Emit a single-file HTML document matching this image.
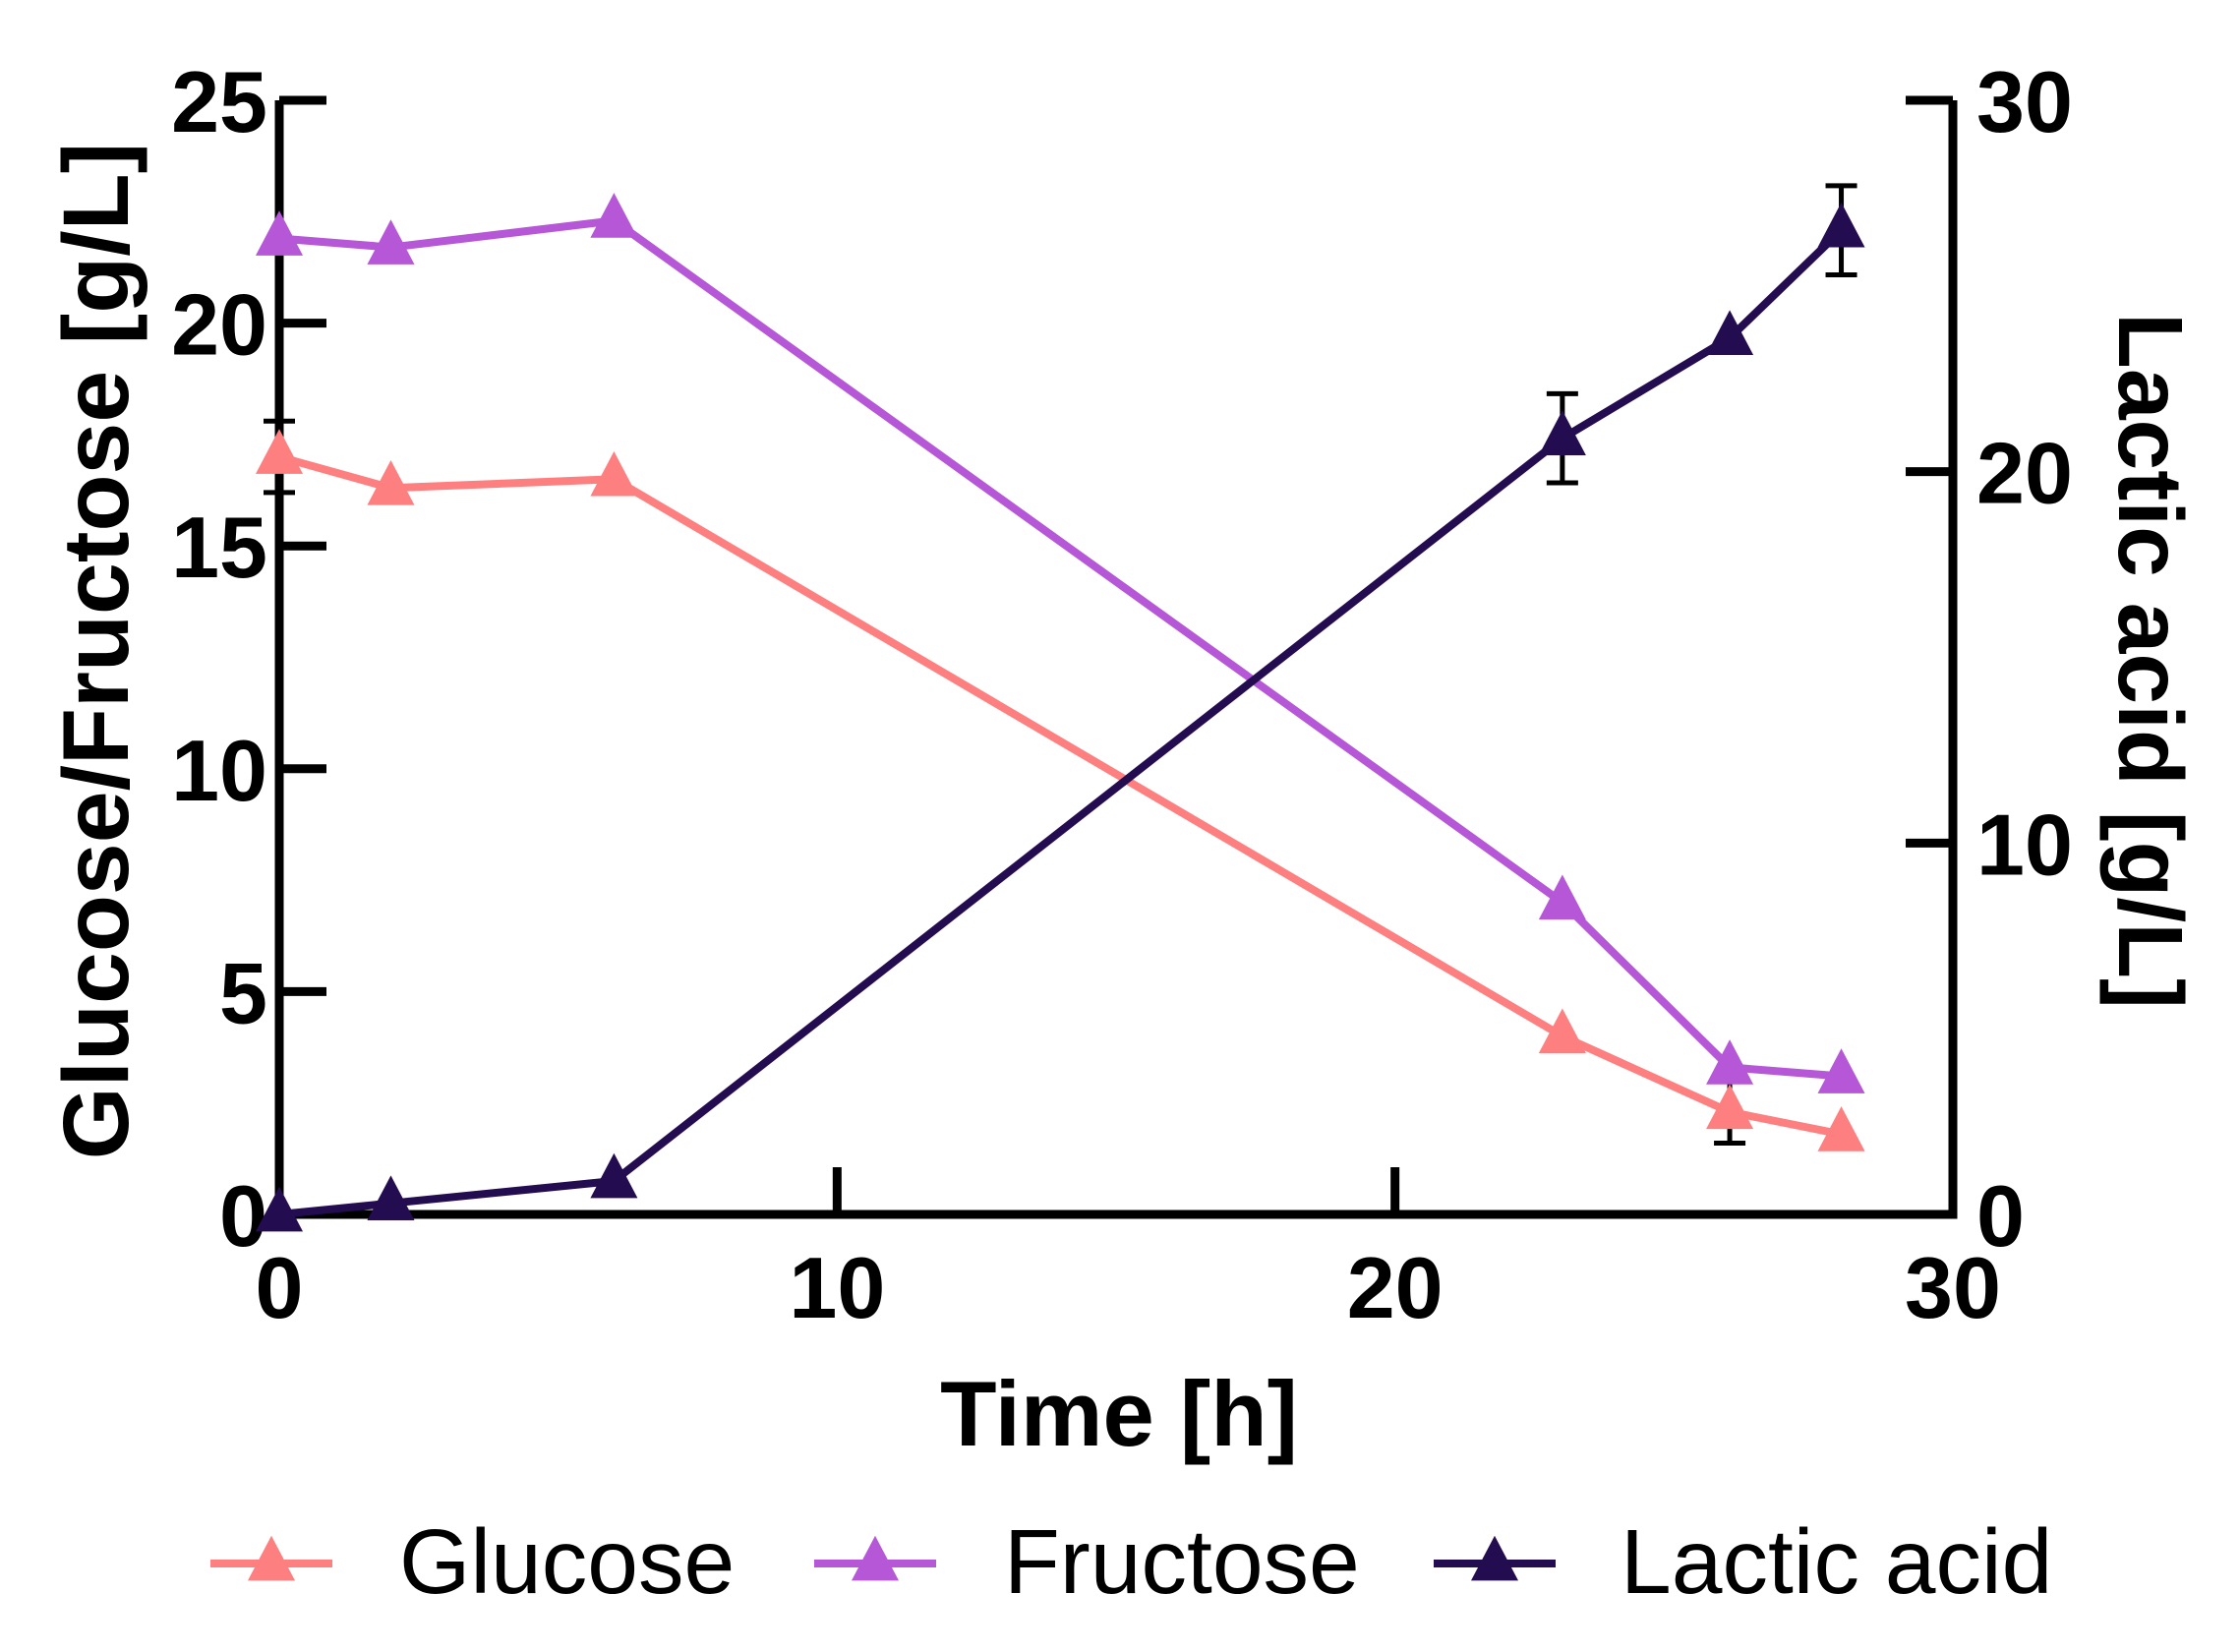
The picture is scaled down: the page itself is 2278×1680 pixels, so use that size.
<!DOCTYPE html>
<html><head><meta charset="utf-8"><style>
html,body{margin:0;padding:0;background:#fff}
svg{display:block}
text{font-family:"Liberation Sans",Arial,sans-serif}
</style></head><body>
<svg id="chart" width="2278" height="1680" viewBox="0 0 2278 1680" xmlns="http://www.w3.org/2000/svg">
<g id="axes"></g>
<g id="series"></g>
<text x="0" y="0" transform="translate(130,662) rotate(-90)" text-anchor="middle" font-size="95" font-weight="bold">Glucose/Fructose [g/L]</text>
<text x="0" y="0" transform="translate(2155,672) rotate(90)" text-anchor="middle" font-size="93" font-weight="bold">Lactic acid [g/L]</text>
<text x="1138" y="1470" text-anchor="middle" font-size="94" font-weight="bold">Time [h]</text>
<g id="legend"></g>
</svg>
<script>
const times = [0, 2, 6, 23, 26, 28];
const glucose = [17.0, 16.3, 16.5, 4.0, 2.3, 1.8];
const glucoseErr = [0.8, 0, 0, 0, 0.7, 0];
const fructose = [21.9, 21.7, 22.3, 7.0, 3.3, 3.1];
const fructoseErr = [0, 0, 0, 0, 0, 0];
const lactic = [0, 0.3, 0.9, 20.9, 23.6, 26.5];
const lacticErr = [0, 0, 0, 1.2, 0, 1.2];
const xTicks = [0, 10, 20, 30];
const yLeftTicks = [0, 5, 10, 15, 20, 25];
const yRightTicks = [0, 10, 20, 30];

const NS = 'http://www.w3.org/2000/svg';
const X0 = 284, X1 = 1986, Y0 = 1235, Y1 = 102;
const xs = t => X0 + (t / 30) * (X1 - X0);
const yl = v => Y0 - (v / 25) * (Y0 - Y1);
const yr = v => Y0 - (v / 30) * (Y0 - Y1);
function mk(tag, attrs, parent) {
  const e = document.createElementNS(NS, tag);
  for (const k in attrs) e.setAttribute(k, attrs[k]);
  parent.appendChild(e);
  return e;
}
const axes = document.getElementById('axes');
const ser = document.getElementById('series');
const leg = document.getElementById('legend');

let a = mk('path', {d:`M${X0},${Y1} V${Y0} H${X1} V${Y1}`, fill:'none', stroke:'#000', 'stroke-width':9}, axes);



yLeftTicks.forEach(v => {
  const l = mk('line', {x1:X0, x2:X0+48, y1:yl(v), y2:yl(v), stroke:'#000', 'stroke-width':9}, axes);
  
  
  const t = mk('text', {x:X0-12, y:yl(v)+32, 'text-anchor':'end', 'font-size':88, 'font-weight':'bold'}, axes);
  t.textContent = v;
  
  
});
yRightTicks.forEach(v => {
  const l = mk('line', {x1:X1-48, x2:X1, y1:yr(v), y2:yr(v), stroke:'#000', 'stroke-width':9}, axes);
  
  
  const t = mk('text', {x:X1+24, y:yr(v)+32, 'text-anchor':'start', 'font-size':88, 'font-weight':'bold'}, axes);
  t.textContent = v;
  
  
});
xTicks.forEach(v => {
  const l = mk('line', {x1:xs(v), x2:xs(v), y1:Y0, y2:Y0-48, stroke:'#000', 'stroke-width':9}, axes);
  
  
  const t = mk('text', {x:xs(v), y:Y0+105, 'text-anchor':'middle', 'font-size':88, 'font-weight':'bold'}, axes);
  t.textContent = v;
  
  
});

function tri(cx, cy, s, color, parent) {
  const h = s * 0.95;
  return mk('polygon', {points:`${cx},${cy-h*0.62} ${cx-s/2},${cy+h*0.38} ${cx+s/2},${cy+h*0.38}`, fill:color}, parent);
}
function drawSeries(vals, errs, scale, color, name) {
  const g = mk('g', {}, ser);
  
  
  const pts = times.map((t, i) => `${xs(t)},${scale(vals[i])}`).join(' ');
  const pl = mk('polyline', {points:pts, fill:'none', stroke:color, 'stroke-width':8, 'stroke-linejoin':'round'}, g);
  
  
  times.forEach((t, i) => {
    if (errs[i] > 0) {
      const cx = xs(t), y1 = scale(vals[i] + errs[i]), y2 = scale(vals[i] - errs[i]);
      const e = mk('path', {d:`M${cx},${y1} V${y2} M${cx-16},${y1} H${cx+16} M${cx-16},${y2} H${cx+16}`, stroke:'#000', 'stroke-width':5, fill:'none'}, g);
      
      
    }
    const m = tri(xs(t), scale(vals[i]), 48, color, g);
    
    
  });
}
drawSeries(glucose, glucoseErr, yl, '#fe7f7f', 'glucose');
drawSeries(fructose, fructoseErr, yl, '#b557d6', 'fructose');
drawSeries(lactic, lacticErr, yr, '#230c4f', 'lactic-acid');

const legendItems = [
  {label:'Glucose', color:'#fe7f7f', x1:214, tx:406, name:'legend-glucose'},
  {label:'Fructose', color:'#b557d6', x1:828, tx:1021, name:'legend-fructose'},
  {label:'Lactic acid', color:'#230c4f', x1:1458, tx:1648, name:'legend-lactic-acid'}
];
legendItems.forEach(it => {
  const g = mk('g', {}, leg);
  
  
  mk('line', {x1:it.x1, x2:it.x1+124, y1:1590, y2:1590, stroke:it.color, 'stroke-width':8}, g);
  tri(it.x1+62, 1590, 48, it.color, g);
  const t = mk('text', {x:it.tx, y:1620, 'font-size':93}, g);
  t.textContent = it.label;
});
</script>
</body></html>
